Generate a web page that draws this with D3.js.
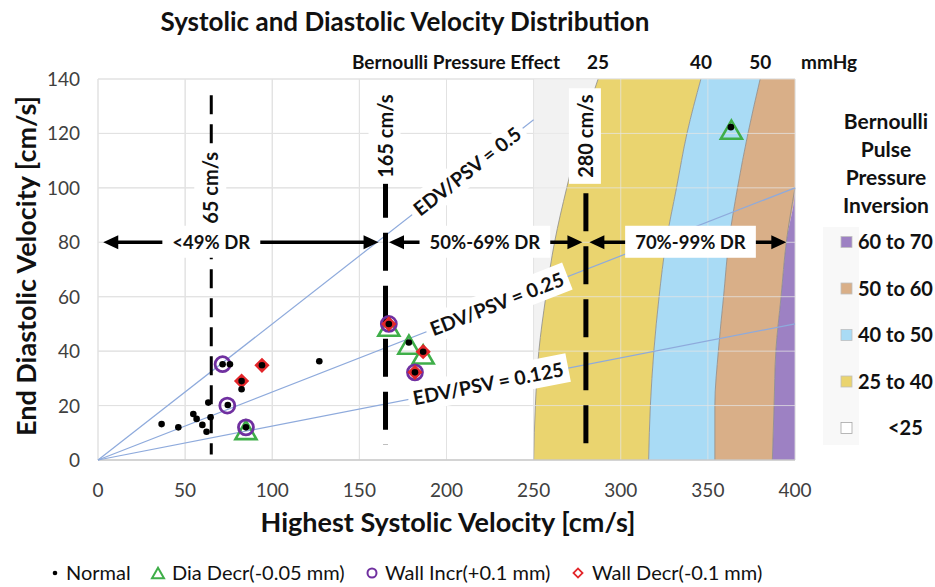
<!DOCTYPE html>
<html>
<head>
<meta charset="utf-8">
<script src="https://cdn.jsdelivr.net/npm/d3@7"></script>
<style>
  body { margin: 0; background: #fff; }
  svg text { font-family: Lato, "Open Sans", sans-serif; }
</style>
</head>
<body>
<svg id="chart" width="935" height="587"></svg>
<script>
// ======================================================
//   Systolic / Diastolic velocity scatter over Bernoulli bands
// ======================================================

// ---- axes ----
const xTicks = [0, 50, 100, 150, 200, 250, 300, 350, 400];
const yTicks = [0, 20, 40, 60, 80, 100, 120, 140];

// ---- Bernoulli pressure bands: boundary PSV (cm/s) read at each EDV level ----
const edvLevels = [0, 20, 40, 60, 80, 100, 120, 140];
const bound25 = [250, 251, 253, 257, 262, 269, 277, 287];
const bound40 = [316, 317, 319, 322, 326, 332, 338, 346];
const bound50 = [354, 354, 356, 359, 362, 367, 373, 380];
const bound60 = [387, 388, 389, 392, 395, 400, 400, 400];
const bandNames = ["<25", "25 to 40", "40 to 50", "50 to 60", "60 to 70"];
const bandColors = ["#f2f2f2", "#ead46f", "#a9dbf5", "#d9af88", "#9d81c3"];
const pressureTicks = ["25", "40", "50"];

// ---- scatter series [PSV, EDV] ----
const normalPts = [
  [36.5, 13.2], [46.1, 12.0], [54.7, 16.9], [56.6, 15.1], [59.9, 12.9],
  [62.3, 10.4], [63.3, 21.1], [64.6, 15.7], [71.5, 35.2], [75.7, 35.2],
  [74.5, 20.2], [82.4, 26.0], [82.4, 29.0], [84.9, 12.0], [94.1, 34.8],
  [127.0, 36.3], [166.9, 50.0], [178.4, 43.2], [181.9, 32.2], [186.6, 39.8],
  [363.2, 122.3]
];
const diaDecrPts = [[84.9, 11.0], [166.9, 49.0], [178.4, 42.4], [186.6, 38.8], [363.5, 121.4]];
const wallIncrPts = [[71.5, 35.2], [74.2, 20.0], [84.9, 12.0], [166.9, 50.0], [181.9, 32.2]];
const wallDecrPts = [[82.4, 29.0], [94.1, 34.8], [166.9, 50.0], [186.6, 39.8], [181.9, 32.2]];
const seriesNames = ["Normal", "Dia Decr(-0.05 mm)", "Wall Incr(+0.1 mm)", "Wall Decr(-0.1 mm)"];

// ---- EDV/PSV ratio guide lines ----
const ratios = [0.5, 0.25, 0.125];
const ratioEnd = [250, 400, 400];
const ratioLabelAt = [212, 229, 224];

// ---- PSV cut-off lines ----
const cutoffs = [65, 165, 280];
const cutoffTop = [134, 103, 98];
const cutoffBottom = [2, 5.5, 3.7];
const cutoffLabelAt = [100, 119, 119];

// ---- stenosis ranges along EDV = 80 ----
const rangeFrom = [3, 167, 282];
const rangeTo = [161, 278, 395];
const rangeLabelAt = [65, 222, 340];
const rangeNames = ["<49% DR", "50%-69% DR", "70%-99% DR"];
const rangeLevel = 80;

// =============================
// SETUP
// =============================
const svg = d3.select("#chart");
const x = d3.scaleLinear().domain([0, 400]).range([98, 795]);
const y = d3.scaleLinear().domain([0, 140]).range([460, 79]);

// title
svg.append("text")
  .attr("x", 405).attr("y", 31)
  .attr("text-anchor", "middle")
  .attr("font-size", 26).attr("font-weight", 700).attr("fill", "#111")
  .text("Systolic and Diastolic Velocity Distribution");

// grid
const grid = svg.append("g");
function drawGrid(g, color, opacity) {
  g.selectAll(".vg").data(xTicks).join("line")
    .attr("x1", d => x(d)).attr("x2", d => x(d))
    .attr("y1", y(0)).attr("y2", y(140))
    .attr("stroke", color).attr("stroke-opacity", opacity);
  g.selectAll(".hg").data(yTicks).join("line")
    .attr("x1", x(0)).attr("x2", x(400))
    .attr("y1", d => y(d)).attr("y2", d => y(d))
    .attr("stroke", color).attr("stroke-opacity", opacity);
}
drawGrid(grid, "#d9d9d9", 1);

// =============================
// BERNOULLI BANDS
// =============================
const rows = edvLevels.map((e, i) => ({
  edv: e, b25: bound25[i], b40: bound40[i], b50: bound50[i], b60: bound60[i]
}));
const bandEdges = [
  [() => 250, d => d.b25],
  [d => d.b25, d => d.b40],
  [d => d.b40, d => d.b50],
  [d => d.b50, d => d.b60],
  [d => d.b60, () => 400]
];
const bands = svg.append("g");
bandEdges.forEach((edge, i) => {
  const area = d3.area()
    .curve(d3.curveMonotoneY)
    .y(d => y(d.edv))
    .x0(d => x(edge[0](d)))
    .x1(d => x(edge[1](d)));
  bands.append("path")
    .attr("d", area(rows))
    .attr("fill", bandColors[i]);
});
["b25", "b40", "b50"].forEach(k => {
  bands.append("path")
    .attr("d", d3.line().curve(d3.curveMonotoneY)
      .x(d => x(d[k])).y(d => y(d.edv))(rows))
    .attr("fill", "none").attr("stroke", "#8a8a8a").attr("stroke-width", 0.8);
});
bands.append("path")
  .attr("d", d3.line().curve(d3.curveMonotoneY)
    .x(d => x(d.b60)).y(d => y(d.edv))(rows.filter(d => d.edv <= 100)))
  .attr("fill", "none").attr("stroke", "#8a8a8a").attr("stroke-width", 0.8);

// lighter grid over the bands
const grid2 = svg.append("g");
drawGrid(grid2, "#e4e4e4", 0.75);

// axis line
svg.append("line")
  .attr("x1", x(0)).attr("x2", x(400)).attr("y1", y(0)).attr("y2", y(0))
  .attr("stroke", "#bfbfbf");

// tick labels
svg.append("g").selectAll("text").data(xTicks).join("text")
  .attr("x", d => x(d)).attr("y", 497)
  .attr("text-anchor", "middle").attr("font-size", 19).attr("fill", "#404040")
  .text(d => d);
svg.append("g").selectAll("text").data(yTicks).join("text")
  .attr("x", 80).attr("y", d => y(d) + 7)
  .attr("text-anchor", "end").attr("font-size", 19).attr("fill", "#404040")
  .text(d => d);

// axis titles
svg.append("text")
  .attr("x", 448).attr("y", 532)
  .attr("text-anchor", "middle").attr("font-size", 27).attr("font-weight", 700).attr("fill", "#111")
  .text("Highest Systolic Velocity [cm/s]");
svg.append("text")
  .attr("transform", "translate(36,266) rotate(-90)")
  .attr("text-anchor", "middle").attr("font-size", 27).attr("font-weight", 700).attr("fill", "#111")
  .text("End Diastolic Velocity [cm/s]");

// pressure header
svg.append("text")
  .attr("x", 560).attr("y", 69)
  .attr("text-anchor", "end").attr("font-size", 19).attr("font-weight", 700).attr("fill", "#111")
  .text("Bernoulli Pressure Effect");
const topRow = rows[rows.length - 1];
svg.append("g").selectAll("text").data(pressureTicks).join("text")
  .attr("x", (d, i) => x([topRow.b25, topRow.b40, topRow.b50][i]))
  .attr("y", 69)
  .attr("text-anchor", "middle").attr("font-size", 19).attr("font-weight", 700).attr("fill", "#111")
  .text(d => d);
svg.append("text")
  .attr("x", 829).attr("y", 69)
  .attr("text-anchor", "middle").attr("font-size", 19).attr("font-weight", 700).attr("fill", "#111")
  .text("mmHg");

// =============================
// GUIDE LINES
// =============================
function boxedText(parent, tx, ty, angle, str, size, padX, padY) {
  const g = parent.append("g").attr("transform", `translate(${tx},${ty}) rotate(${angle})`);
  const t = g.append("text")
    .attr("text-anchor", "middle").attr("dy", "0.35em")
    .attr("font-size", size).attr("font-weight", 700).attr("fill", "#111")
    .text(str);
  const bb = t.node().getBBox();
  g.insert("rect", "text")
    .attr("x", bb.x - padX).attr("y", bb.y - padY)
    .attr("width", bb.width + 2 * padX).attr("height", bb.height + 2 * padY)
    .attr("fill", "#fff");
  return g;
}

const guides = svg.append("g");
ratios.forEach((r, i) => {
  guides.append("line")
    .attr("x1", x(0)).attr("y1", y(0))
    .attr("x2", x(ratioEnd[i])).attr("y2", y(ratioEnd[i] * r))
    .attr("stroke", "#8eaadc").attr("stroke-width", 1.2);
});

// cut-off dashed lines
cutoffs.forEach((c, i) => {
  guides.append("line")
    .attr("x1", x(c)).attr("x2", x(c))
    .attr("y1", y(cutoffTop[i])).attr("y2", y(cutoffBottom[i]))
    .attr("stroke", "#000")
    .attr("stroke-width", i === 0 ? 3 : 5)
    .attr("stroke-dasharray", i === 0 ? "19,10" : "38,15");
});

// range arrows
const arrows = svg.append("g");
function arrowHead(xTip, dir) {
  const yy = y(rangeLevel);
  const L = 15, W = 7;
  arrows.append("path")
    .attr("d", `M${xTip},${yy} L${xTip - dir * L},${yy - W} L${xTip - dir * L},${yy + W} Z`)
    .attr("fill", "#000");
}
rangeNames.forEach((name, i) => {
  arrows.append("line")
    .attr("x1", x(rangeFrom[i]) + 8).attr("x2", x(rangeTo[i]) - 8)
    .attr("y1", y(rangeLevel)).attr("y2", y(rangeLevel))
    .attr("stroke", "#000").attr("stroke-width", 3.5);
  arrowHead(x(rangeFrom[i]), -1);
  arrowHead(x(rangeTo[i]), 1);
});

// ratio labels
const labels = svg.append("g");
ratios.forEach((r, i) => {
  const px = x(ratioLabelAt[i]), py = y(ratioLabelAt[i] * r);
  const ang = -Math.atan2(y(0) - y(r), x(1) - x(0)) * 180 / Math.PI;
  boxedText(labels, px, py, ang, `EDV/PSV = ${r}`, 19.5, 5, 3);
});
// cutoff labels
cutoffs.forEach((c, i) => {
  boxedText(labels, x(c), y(cutoffLabelAt[i]), -90, `${c}  cm/s`, 20, 6, 4);
});
// range labels
rangeNames.forEach((name, i) => {
  boxedText(labels, x(rangeLabelAt[i]), y(rangeLevel), 0, name, 18.5, 10, 5);
});

// =============================
// MARKERS
// =============================
const marks = svg.append("g");
const triPath = (s) => {
  const h = s * 0.866;
  return `M0,${-h / 2} L${s / 2},${h / 2} L${-s / 2},${h / 2} Z`;
};
marks.selectAll(".tri").data(diaDecrPts).join("path")
  .attr("transform", d => `translate(${x(d[0])},${y(d[1])})`)
  .attr("d", triPath(21))
  .attr("fill", "none").attr("stroke", "#3fae49").attr("stroke-width", 2.6)
  .attr("stroke-linejoin", "miter");
marks.selectAll(".circ").data(wallIncrPts).join("circle")
  .attr("cx", d => x(d[0])).attr("cy", d => y(d[1])).attr("r", 7.5)
  .attr("fill", "none").attr("stroke", "#7030a0").attr("stroke-width", 2.8);
marks.selectAll(".dia").data(wallDecrPts).join("path")
  .attr("transform", d => `translate(${x(d[0])},${y(d[1])}) rotate(45)`)
  .attr("d", "M-3.8,-3.8 H3.8 V3.8 H-3.8 Z")
  .attr("fill", "none").attr("stroke", "#e3262a").attr("stroke-width", 3.2);
marks.selectAll(".dot").data(normalPts).join("circle")
  .attr("cx", d => x(d[0])).attr("cy", d => y(d[1])).attr("r", 3.3)
  .attr("fill", "#000");

// =============================
// RIGHT LEGEND (bands)
// =============================
const rl = svg.append("g");
rl.append("rect").attr("x", 823).attr("y", 227).attr("width", 36).attr("height", 218)
  .attr("fill", "#f8f8f8");
["Bernoulli", "Pulse", "Pressure", "Inversion"].forEach((t, i) => {
  rl.append("text")
    .attr("x", 886).attr("y", 129 + i * 28)
    .attr("text-anchor", "middle").attr("font-size", 21).attr("font-weight", 700).attr("fill", "#111")
    .text(t);
});
const legendOrder = [4, 3, 2, 1, 0];
legendOrder.forEach((b, i) => {
  const cy = 242 + i * 46.5;
  rl.append("rect")
    .attr("x", 841).attr("y", cy - 5.5).attr("width", 11).attr("height", 11)
    .attr("fill", b === 0 ? "#fff" : bandColors[b])
    .attr("stroke", b === 0 ? "#a6a6a6" : "#bfbfbf").attr("stroke-width", 0.8);
  rl.append("text")
    .attr("x", b === 0 ? 888 : 858).attr("y", cy + 7)
    .attr("font-size", 20).attr("font-weight", 700).attr("fill", "#111")
    .text(bandNames[b]);
});

// =============================
// BOTTOM LEGEND (series)
// =============================
const bl = svg.append("g").attr("font-size", 20).attr("fill", "#111");
const legendX = [55, 158, 372, 578];
const legendTextX = [66, 172, 385, 592];
const legendY = 573;
bl.append("circle").attr("cx", legendX[0]).attr("cy", legendY).attr("r", 2.3).attr("fill", "#000");
bl.append("path").attr("transform", `translate(${legendX[1]},${legendY})`)
  .attr("d", triPath(12)).attr("fill", "none").attr("stroke", "#3fae49").attr("stroke-width", 2);
bl.append("circle").attr("cx", legendX[2]).attr("cy", legendY).attr("r", 4.5)
  .attr("fill", "none").attr("stroke", "#7030a0").attr("stroke-width", 2);
bl.append("path").attr("transform", `translate(${legendX[3]},${legendY}) rotate(45)`)
  .attr("d", "M-3.2,-3.2 H3.2 V3.2 H-3.2 Z")
  .attr("fill", "none").attr("stroke", "#e3262a").attr("stroke-width", 1.8);
seriesNames.forEach((n, i) => {
  bl.append("text").attr("x", legendTextX[i]).attr("y", legendY + 7).text(n);
});
</script>
</body>
</html>
